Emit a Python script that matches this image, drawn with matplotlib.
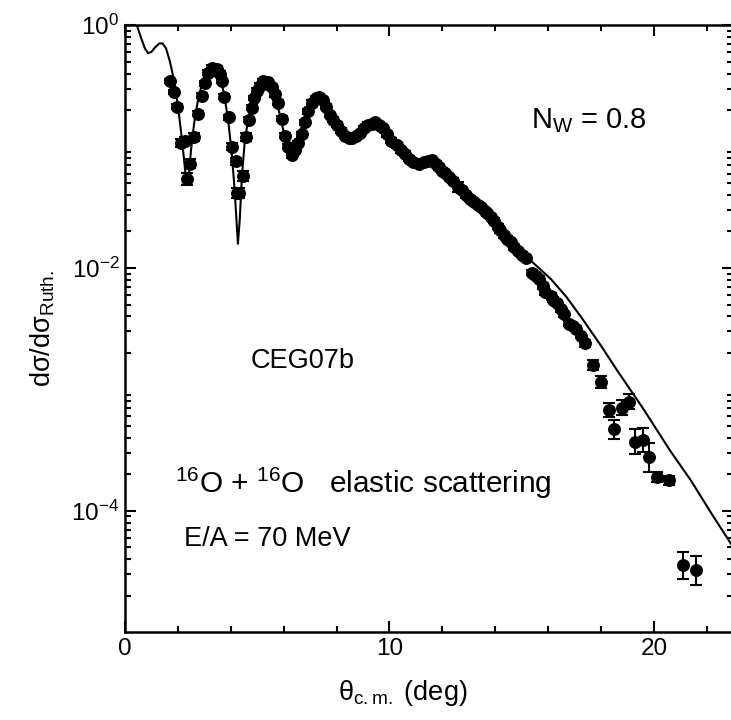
import numpy as np
import matplotlib
matplotlib.use("Agg")
import matplotlib.pyplot as plt
from matplotlib.ticker import LogLocator, MultipleLocator, NullFormatter

plt.rcParams["font.family"] = ["Liberation Sans", "DejaVu Sans"]
plt.rcParams["mathtext.fontset"] = "custom"
plt.rcParams["mathtext.rm"] = "Liberation Sans"
plt.rcParams["mathtext.it"] = "Liberation Sans:italic"
plt.rcParams["mathtext.sf"] = "Liberation Sans"
plt.rcParams["mathtext.default"] = "regular"

# 16O + 16O elastic, E/A = 70 MeV: measured ratio to Rutherford
# (log10 of dsigma/dsigma_R, error half-width in decades)
theta_exp = [1.70, 1.86, 1.97, 2.12, 2.27, 2.35, 2.46, 2.61, 2.76, 2.92,
             3.03, 3.15, 3.30, 3.48, 3.60, 3.68, 3.75, 3.94, 4.05, 4.20,
             4.22, 4.33, 4.45, 4.58, 4.68, 4.80, 4.88, 4.98, 5.10, 5.23,
             5.40, 5.55, 5.68, 5.80, 5.94, 6.06, 6.17, 6.30, 6.44, 6.56,
             6.70, 6.82, 6.93, 7.08, 7.22, 7.35, 7.50, 7.62, 7.76, 7.88,
             8.00, 8.16, 8.33, 8.47, 8.60, 8.75, 8.90, 9.05, 9.20, 9.35,
             9.47, 9.62, 9.77, 9.90, 10.05, 10.30, 10.45, 10.60, 10.75, 10.90,
             11.10, 11.30, 11.45, 11.60, 11.75, 11.86, 12.00, 12.10, 12.25, 12.40,
             12.60, 12.75, 12.90, 13.05, 13.20, 13.35, 13.45, 13.60, 13.70, 13.85,
             13.95, 14.10, 14.20, 14.35, 14.45, 14.60, 14.70, 14.85, 15.00, 15.15,
             15.40, 15.55, 15.65, 15.80, 15.90, 16.10, 16.20, 16.35, 16.50, 16.60,
             16.80, 16.95, 17.05, 17.23, 17.40, 17.70, 18.00, 18.30, 18.50, 18.80,
             19.05, 19.30, 19.60, 19.80, 20.10, 20.56, 21.10, 21.60]
log_ratio_exp = [-0.46, -0.55, -0.67, -0.97, -0.95, -1.27, -1.14, -0.92, -0.73, -0.58,
                 -0.48, -0.39, -0.35, -0.36, -0.40, -0.46, -0.59, -0.76, -1.00, -1.12,
                 -1.38, -1.38, -1.24, -0.92, -0.78, -0.68, -0.60, -0.54, -0.50, -0.46,
                 -0.47, -0.51, -0.57, -0.64, -0.77, -0.91, -1.00, -1.07, -1.03, -0.97,
                 -0.90, -0.80, -0.71, -0.64, -0.60, -0.59, -0.62, -0.67, -0.74, -0.78,
                 -0.82, -0.87, -0.91, -0.93, -0.93, -0.91, -0.89, -0.85, -0.82, -0.81,
                 -0.80, -0.82, -0.85, -0.90, -0.95, -0.99, -1.03, -1.06, -1.10, -1.13,
                 -1.14, -1.13, -1.12, -1.11, -1.14, -1.17, -1.20, -1.22, -1.25, -1.28,
                 -1.33, -1.36, -1.40, -1.43, -1.46, -1.48, -1.50, -1.53, -1.55, -1.58,
                 -1.61, -1.66, -1.69, -1.73, -1.76, -1.79, -1.83, -1.86, -1.89, -1.92,
                 -2.04, -2.07, -2.09, -2.15, -2.20, -2.23, -2.26, -2.29, -2.34, -2.38,
                 -2.46, -2.48, -2.50, -2.56, -2.62, -2.80, -2.94, -3.17, -3.33, -3.15,
                 -3.10, -3.43, -3.42, -3.56, -3.72, -3.75, -4.45, -4.49]
log_err_exp = [0.02, 0.02, 0.02, 0.03, 0.03, 0.05, 0.04, 0.03, 0.02, 0.02,
               0.02, 0.02, 0.02, 0.02, 0.02, 0.02, 0.02, 0.02, 0.03, 0.03,
               0.04, 0.04, 0.04, 0.03, 0.02, 0.02, 0.02, 0.02, 0.02, 0.02,
               0.02, 0.02, 0.02, 0.02, 0.02, 0.02, 0.02, 0.02, 0.02, 0.02,
               0.02, 0.02, 0.02, 0.02, 0.02, 0.02, 0.02, 0.02, 0.02, 0.02,
               0.02, 0.02, 0.02, 0.02, 0.02, 0.02, 0.02, 0.02, 0.02, 0.02,
               0.02, 0.02, 0.02, 0.02, 0.02, 0.02, 0.02, 0.02, 0.02, 0.02,
               0.02, 0.02, 0.02, 0.02, 0.02, 0.02, 0.02, 0.02, 0.02, 0.02,
               0.04, 0.02, 0.02, 0.02, 0.02, 0.02, 0.02, 0.02, 0.02, 0.02,
               0.02, 0.02, 0.02, 0.02, 0.02, 0.02, 0.02, 0.02, 0.02, 0.02,
               0.02, 0.02, 0.02, 0.02, 0.02, 0.02, 0.02, 0.02, 0.02, 0.02,
               0.02, 0.02, 0.02, 0.02, 0.03, 0.04, 0.05, 0.06, 0.08, 0.06,
               0.06, 0.10, 0.10, 0.12, 0.04, 0.04, 0.11, 0.12]

# optical-model calculation, N_W = 0.8
theta_calc = [0.30, 0.45, 0.60, 0.75, 0.87, 1.00, 1.15, 1.30, 1.42, 1.55,
              1.70, 1.85, 2.00, 2.12, 2.22, 2.30, 2.36, 2.42, 2.50, 2.62,
              2.75, 2.90, 3.05, 3.20, 3.32, 3.45, 3.60, 3.75, 3.90, 4.02,
              4.12, 4.20, 4.27, 4.34, 4.42, 4.52, 4.65, 4.80, 4.95, 5.10,
              5.28, 5.45, 5.60, 5.75, 5.90, 6.05, 6.18, 6.30, 6.42, 6.55,
              6.70, 6.85, 7.00, 7.20, 7.40, 7.60, 7.80, 8.00, 8.20, 8.45,
              8.65, 8.90, 9.15, 9.40, 9.65, 9.90, 10.20, 10.50, 10.80, 11.10,
              11.40, 11.70, 12.00, 12.40, 12.80, 13.20, 13.60, 14.00, 14.40, 14.80,
              15.35, 16.10, 16.70, 17.30, 18.00, 18.60, 19.10, 19.60, 20.10, 20.60,
              21.40, 22.20, 23.00]
log_ratio_calc = [0.08, 0.00, -0.10, -0.19, -0.23, -0.22, -0.18, -0.15, -0.15, -0.19,
                  -0.30, -0.45, -0.66, -0.88, -1.08, -1.25, -1.31, -1.22, -1.02, -0.80,
                  -0.63, -0.49, -0.39, -0.34, -0.33, -0.35, -0.43, -0.57, -0.78, -1.02,
                  -1.28, -1.55, -1.80, -1.60, -1.25, -0.98, -0.78, -0.63, -0.53, -0.48,
                  -0.46, -0.49, -0.55, -0.64, -0.78, -0.93, -1.03, -1.07, -1.03, -0.94,
                  -0.82, -0.72, -0.65, -0.60, -0.59, -0.64, -0.72, -0.81, -0.88, -0.93,
                  -0.92, -0.87, -0.82, -0.80, -0.82, -0.88, -0.97, -1.04, -1.10, -1.12,
                  -1.12, -1.14, -1.19, -1.28, -1.37, -1.46, -1.54, -1.63, -1.72, -1.82,
                  -1.94, -2.09, -2.24, -2.42, -2.64, -2.84, -3.00, -3.16, -3.33, -3.50,
                  -3.75, -4.03, -4.30]

th_e = np.array(theta_exp)
lr_e = np.array(log_ratio_exp)
le_e = np.array(log_err_exp)
ratio_e = 10.0 ** lr_e
err_lo = ratio_e - 10.0 ** (lr_e - le_e)
err_hi = 10.0 ** (lr_e + le_e) - ratio_e
ratio_c = 10.0 ** np.array(log_ratio_calc)

fig = plt.figure(figsize=(7.31, 7.20), dpi=100)
ax = fig.add_axes([0.171, 0.122, 1.003 - 0.171, 0.843])

ax.plot(theta_calc, ratio_c, color="black", lw=1.5, zorder=3)
ax.errorbar(th_e, ratio_e, yerr=[err_lo, err_hi], fmt="o", color="black",
            ms=8.3, elinewidth=1.5, capsize=4.5, capthick=1.5, zorder=4)

ax.set_yscale("log")
ax.set_xlim(0, 23)
ax.set_ylim(1e-5, 1)

ax.xaxis.set_major_locator(MultipleLocator(10))
ax.xaxis.set_minor_locator(MultipleLocator(2))
ax.yaxis.set_major_locator(LogLocator(base=10, numticks=10))
ax.yaxis.set_minor_locator(LogLocator(base=10, subs=np.arange(2, 10), numticks=20))
ax.yaxis.set_minor_formatter(NullFormatter())
ax.set_yticks([1e-4, 1e-2, 1])

ax.tick_params(which="both", direction="in", top=True, right=True,
               labelsize=17.5, width=1.5, pad=4)
ax.tick_params(which="major", length=8)
ax.tick_params(which="minor", length=4)
for s in ax.spines.values():
    s.set_linewidth(1.8)

ax.set_xlabel(r"$\theta_{c.m.}$ (deg)", fontsize=19.5)
ax.xaxis.set_label_coords(0.457, -0.075)
ax.set_ylabel("dσ/dσ$_{Ruth.}$", fontsize=19.5)
ax.yaxis.set_label_coords(-0.112, 0.5)

ax.text(15.34, 10 ** -0.85, "N$_W$ = 0.8", fontsize=21, ha="left", va="baseline")
ax.text(4.75, 10 ** -2.82, "CEG07b", fontsize=19.5, ha="left", va="baseline")
ax.text(1.89, 10 ** -3.85, "$^{16}$O + $^{16}$O   elastic scattering",
        fontsize=21.5, ha="left", va="baseline")
ax.text(2.23, 10 ** -4.29, "E/A = 70 MeV", fontsize=19.5, ha="left", va="baseline")

fig.savefig("out.png", dpi=100, facecolor="white")
